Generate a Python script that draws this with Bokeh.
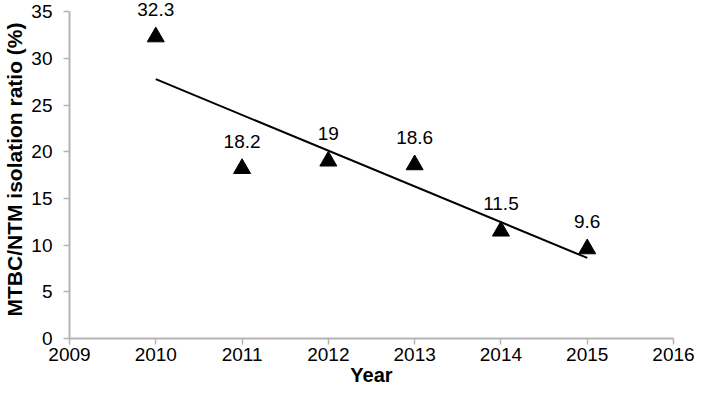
import numpy as np
from bokeh.plotting import figure
from bokeh.models import ColumnDataSource, Range1d, FixedTicker, LabelSet
from bokeh.core.properties import value
from bokeh.embed import file_html
from bokeh.resources import INLINE

years = [2010, 2011, 2012, 2013, 2014, 2015]
ratios = [32.3, 18.2, 19, 18.6, 11.5, 9.6]
labels = ["32.3", "18.2", "19", "18.6", "11.5", "9.6"]
x_ticks = [2009, 2010, 2011, 2012, 2013, 2014, 2015, 2016]
y_ticks = [0, 5, 10, 15, 20, 25, 30, 35]

FONT = "Liberation Sans"

p = figure(width=695, height=392, output_backend="svg", toolbar_location=None,
           x_range=Range1d(2009, 2016), y_range=Range1d(0, 36.2),
           min_border_left=67, min_border_right=22, min_border_top=0, min_border_bottom=54)
p.outline_line_color = None
p.xgrid.visible = False
p.ygrid.visible = False

src = ColumnDataSource(dict(x=years, y=ratios, t=labels))

# linear trend line fitted to the data
slope, intercept = np.polyfit(years, ratios, 1)
tx = [years[0], years[-1]]
ty = [slope * v + intercept for v in tx]
p.line(tx, ty, line_color="black", line_width=2)

p.scatter("x", "y", source=src, marker="triangle", size=17, fill_color="black", line_color="black")

lbl = LabelSet(x="x", y="y", text="t", source=src, x_offset=0, y_offset=21,
               text_align="center", text_baseline="alphabetic",
               text_font=value(FONT), text_font_size="19px", text_color="black")
p.add_layout(lbl)

for ax in (p.xaxis[0], p.yaxis[0]):
    ax.axis_line_color = "#b3b3b3"
    ax.axis_line_width = 2
    ax.major_tick_line_color = "#b3b3b3"
    ax.major_tick_line_width = 1.5
    ax.major_tick_in = 0
    ax.major_tick_out = 6
    ax.minor_tick_line_color = None
    ax.major_label_text_font = FONT
    ax.major_label_text_font_size = "19px"
    ax.major_label_text_color = "black"
    ax.axis_label_text_font = FONT
    ax.axis_label_text_font_style = "bold"
    ax.axis_label_text_color = "black"

p.xaxis.ticker = FixedTicker(ticks=x_ticks)
p.yaxis.ticker = FixedTicker(ticks=y_ticks)
p.yaxis.bounds = (y_ticks[0], y_ticks[-1])
p.xaxis.axis_label = "Year"
p.yaxis.axis_label = "MTBC/NTM isolation ratio (%)"
p.xaxis.axis_label_text_font_size = "20px"
p.yaxis.axis_label_text_font_size = "21px"
p.xaxis.major_label_standoff = 3
p.yaxis.major_label_standoff = 11
p.xaxis.axis_label_standoff = 0
p.yaxis.axis_label_standoff = 2

open("out.html", "w").write(file_html(p, INLINE))
